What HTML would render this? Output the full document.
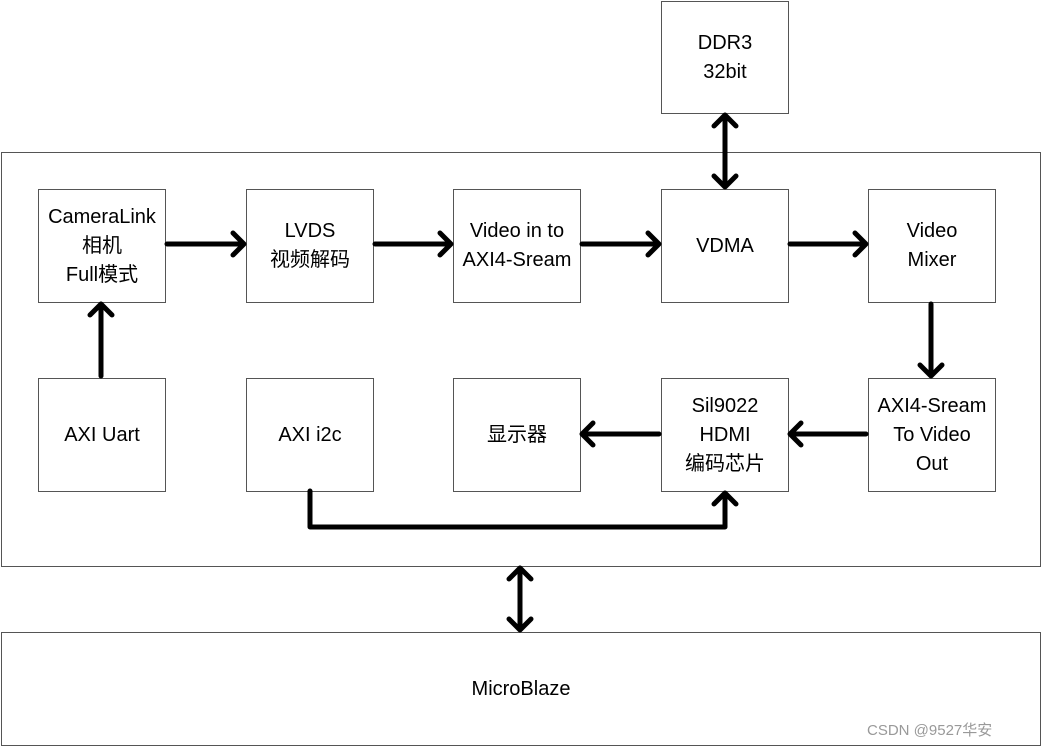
<!DOCTYPE html>
<html><head><meta charset="utf-8"><style>
body{margin:0;width:1042px;height:746px;background:#fff;position:relative;overflow:hidden;font-family:"Liberation Sans","Noto Sans CJK SC",sans-serif;}
.b{position:absolute;border:1px solid #555;box-sizing:border-box;display:flex;align-items:center;justify-content:center;text-align:center;font-size:20px;line-height:29px;color:#000;background:transparent;}
svg{position:absolute;left:0;top:0}
</style></head><body>
<div class="b" style="left:1px;top:152px;width:1040px;height:415px"></div>
<div class="b" style="left:1px;top:632px;width:1040px;height:114px">MicroBlaze</div>
<div class="b" style="left:661px;top:1px;width:128px;height:113px">DDR3<br>32bit</div>
<div class="b" style="left:38px;top:189px;width:128px;height:114px">CameraLink<br>相机<br>Full模式</div>
<div class="b" style="left:246px;top:189px;width:128px;height:114px">LVDS<br>视频解码</div>
<div class="b" style="left:453px;top:189px;width:128px;height:114px">Video in to<br>AXI4-Sream</div>
<div class="b" style="left:661px;top:189px;width:128px;height:114px">VDMA</div>
<div class="b" style="left:868px;top:189px;width:128px;height:114px">Video<br>Mixer</div>
<div class="b" style="left:38px;top:378px;width:128px;height:114px">AXI Uart</div>
<div class="b" style="left:246px;top:378px;width:128px;height:114px">AXI i2c</div>
<div class="b" style="left:453px;top:378px;width:128px;height:114px">显示器</div>
<div class="b" style="left:661px;top:378px;width:128px;height:114px">Sil9022<br>HDMI<br>编码芯片</div>
<div class="b" style="left:868px;top:378px;width:128px;height:114px">AXI4-Sream<br>To Video<br>Out</div>
<div style="position:absolute;left:867px;top:719px;font-size:15px;color:#999">CSDN @9527华安</div>
<svg width="1042" height="746" fill="none" stroke="#000" stroke-width="5" stroke-linecap="round" stroke-linejoin="round">
<path d="M167 244H244M233 233l11 11-11 11"/>
<path d="M375 244H451M440 233l11 11-11 11"/>
<path d="M582 244H659M648 233l11 11-11 11"/>
<path d="M790 244H866M855 233l11 11-11 11"/>
<path d="M931 304V376M920 365l11 11 11-11"/>
<path d="M866 434H790M801 423l-11 11 11 11"/>
<path d="M659 434H582M593 423l-11 11 11 11"/>
<path d="M101 376V304M90 315l11-11 11 11"/>
<path d="M310 491V527H725V493M714 504l11-11 11 11"/>
<path d="M725 115V187M714 126l11-11 11 11M714 176l11 11 11-11"/>
<path d="M520 568V630M509 579l11-11 11 11M509 619l11 11 11-11"/>
</svg>
</body></html>
